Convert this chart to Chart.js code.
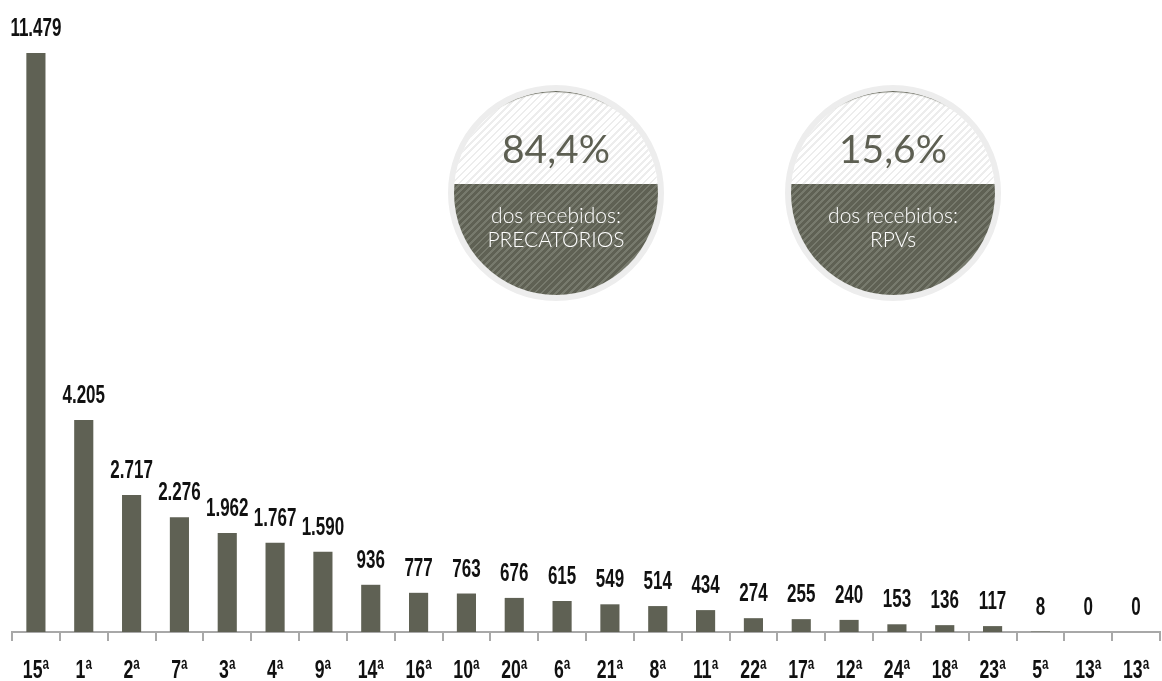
<!DOCTYPE html>
<html>
<head>
<meta charset="utf-8">
<script src="https://cdn.jsdelivr.net/npm/chart.js@4.4.1/dist/chart.umd.min.js"></script>
<style>
  html, body { margin: 0; padding: 0; background: #fff; }
  #wrap { position: relative; width: 1162px; height: 681px; }
  #chart { position: absolute; left: 0; top: 0; }
  .badge {
    position: absolute; width: 216px; height: 216px; border-radius: 50%;
    box-sizing: border-box; border: 6px solid #ededed; overflow: hidden;
    font-family: Lato, 'Open Sans', sans-serif;
  }
  .badge .top {
    position: absolute; left: 0; top: 0; right: 0; height: 93px;
    background: repeating-linear-gradient(135deg, #ffffff 0 3px, #ededed 3px 5px);
    box-shadow: inset 0 2px 1px -1px #5f6154;
    border-radius: 102px 102px 0 0 / 93px 93px 0 0;
  }
  .badge .bottom {
    position: absolute; left: 0; bottom: 0; right: 0; top: 93px;
    background: repeating-linear-gradient(135deg, #5f6154 0 3px, #777a6d 3px 5px);
  }
  .badge .pct {
    position: absolute; left: 0; right: 0; top: 34px; text-align: center;
    font-size: 39px; color: #5d5f52; font-weight: 400; line-height: 46px;
  }
  .badge .txt {
    position: absolute; left: 0; right: 0; top: 112px; text-align: center;
    font-size: 21px; color: #fff; font-weight: 300; line-height: 24px;
  }
</style>
</head>
<body>
<div id="wrap">
  <canvas id="chart" width="1162" height="681"></canvas>
</div>
<script>
// Precatórios recebidos por vara
var categories = ['15ª','1ª','2ª','7ª','3ª','4ª','9ª','14ª','16ª','10ª','20ª','6ª','21ª','8ª','11ª','22ª','17ª','12ª','24ª','18ª','23ª','5ª','13ª','13ª'];
var values = [11479, 4205, 2717, 2276, 1962, 1767, 1590, 936, 777, 763, 676, 615, 549, 514, 434, 274, 255, 240, 153, 136, 117, 8, 0, 0];

// circles on the right
var badgeValues = ['84,4%', '15,6%'];
var badgeLabels = ['dos recebidos:<br>PRECATÓRIOS', 'dos recebidos:<br>RPVs'];
var badgeLeft = [448, 785];

var wrap = document.getElementById('wrap');
for (var i = 0; i < badgeValues.length; i++) {
    var b = document.createElement('div');
    b.className = 'badge';
    b.style.left = badgeLeft[i] + 'px';
    b.style.top = '85px';
    b.innerHTML = '<div class="top"></div><div class="bottom"></div>' +
        '<div class="pct">' + badgeValues[i] + '</div>' +
        '<div class="txt">' + badgeLabels[i] + '</div>';
    wrap.appendChild(b);
}

var narrowFont = "'Liberation Sans', Arial, sans-serif";

function fmt(n) {
    return String(n).replace(/\B(?=(\d{3})+(?!\d))/g, '.');
}

// squeezed text, to look like a condensed face
function narrowText(ctx, text, x, y, size) {
    var sx = 0.68;
    ctx.save();
    ctx.font = 'bold ' + size + 'px ' + narrowFont;
    ctx.textAlign = 'center';
    ctx.textBaseline = 'alphabetic';
    ctx.translate(x, y);
    ctx.scale(sx, 1);
    ctx.fillText(text, 0, 0);
    ctx.restore();
}

var labelsPlugin = {
    id: 'labelsPlugin',
    afterDraw: function(chart) {
        var ctx = chart.ctx;
        var meta = chart.getDatasetMeta(0);
        var xs = chart.scales.x;
        ctx.save();
        ctx.fillStyle = '#111';
        meta.data.forEach(function(bar, i) {
            narrowText(ctx, fmt(values[i]), bar.x, bar.y - 17, 25);
        });
        categories.forEach(function(c, i) {
            narrowText(ctx, c, xs.getPixelForTick(i), 678, 26);
        });
        ctx.restore();
    }
};

var ctx = document.getElementById('chart').getContext('2d');
var chart = new Chart(ctx, {
    type: 'bar',
    data: {
        labels: categories,
        datasets: [{
            data: values,
            backgroundColor: '#5f6154',
            barPercentage: 0.4,
            categoryPercentage: 1
        }]
    },
    options: {
        responsive: false,
        animation: false,
        layout: { padding: { left: 12, right: 2, top: 53, bottom: 4 } },
        plugins: { legend: { display: false }, tooltip: { enabled: false } },
        scales: {
            x: {
                grid: { drawOnChartArea: false, color: '#a8a8a8', tickLength: 9, lineWidth: 2 },
                border: { color: '#a8a8a8', width: 2 },
                ticks: { color: 'rgba(0,0,0,0)', font: { size: 20 }, padding: 6, maxRotation: 0, autoSkip: false }
            },
            y: {
                display: false,
                min: 0,
                max: 11479
            }
        }
    },
    plugins: [labelsPlugin]
});
</script>
</body>
</html>
